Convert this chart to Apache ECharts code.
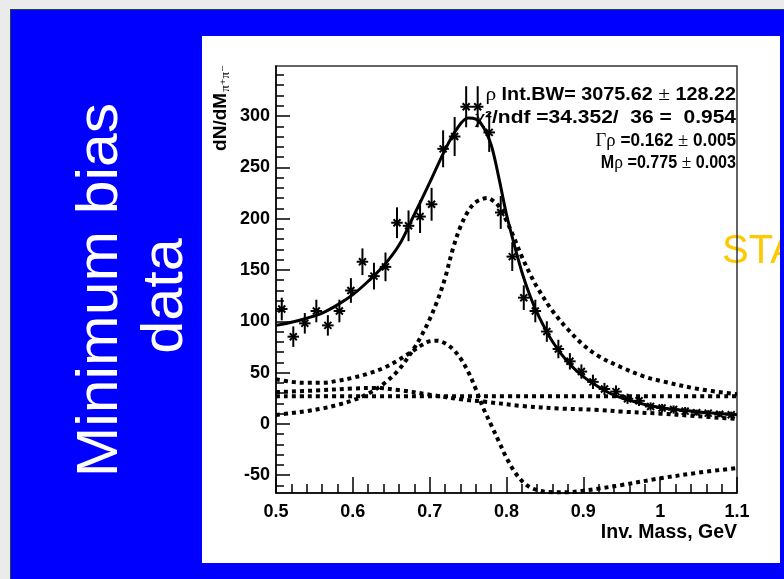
<!DOCTYPE html>
<html><head><meta charset="utf-8">
<script src="https://cdn.jsdelivr.net/npm/echarts@6/dist/echarts.min.js"></script>
<style>html,body{margin:0;padding:0;background:#ebebeb;overflow:hidden}#c{width:784px;height:579px}</style>
</head><body><div id="c"></div>
<script>
// ---- data ----
const binCenters = [0.5075,0.5225,0.5375,0.5525,0.5675,0.5825,0.5975,0.6125,0.6275,0.6425,
  0.6575,0.6725,0.6875,0.7025,0.7175,0.7325,0.7475,0.7625,0.7775,0.7925,
  0.8075,0.8225,0.8375,0.8525,0.8675,0.8825,0.8975,0.9125,0.9275,0.9425,
  0.9575,0.9725,0.9875,1.0025,1.0175,1.0325,1.0475,1.0625,1.0775,1.0925];
const counts = [112,85,98,110,96,110,130,158,144,153,
  196,193,202,214,268,280,309,309,284,206,
  163,123,110,90,73,61,51,41,34,31.5,
  24.5,22.5,17,15.5,14,12.5,11,10.5,9.5,9];
const errors = [11,10,10,11,10,11,12,13,13,14,
  15,15,16,16,18,19,20,20,19,16,
  14,12,11,10,9,8,7,7,6,6,
  5,5,4,4,4,4,3,3,3,3];

const fitX = [0.50,0.52,0.54,0.56,0.58,0.60,0.62,0.64,0.66,0.68,0.70,0.72,0.735,0.75,0.76,0.77,0.78,0.79,0.80,0.81,0.82,0.83,0.84,0.86,0.88,0.90,0.92,0.94,0.96,0.98,1.00,1.02,1.04,1.06,1.08,1.10];
const fitY = [96,99,103,108,116,126,139,154,174,204,235,267,287,298,297,289,272,240,204,175,148,126,108,80,60,46,36,28,23,19,16,14,12.5,11,10,9];

const bwX = [0.50,0.52,0.54,0.56,0.58,0.60,0.62,0.64,0.66,0.68,0.69,0.70,0.71,0.72,0.73,0.74,0.75,0.76,0.775,0.785,0.79,0.80,0.81,0.82,0.83,0.84,0.86,0.88,0.90,0.92,0.95,0.98,1.00,1.05,1.10];
const bwY = [8.8,10.5,12.5,15,18.5,23,29.5,39,53,74,87,102,120,142,170,192,207,216,220,216,212,198,181,163,147,133,110,92,77,66,55,46,42,34,29];

const intX = [0.50,0.52,0.54,0.56,0.58,0.60,0.62,0.64,0.66,0.68,0.69,0.70,0.71,0.72,0.73,0.74,0.75,0.76,0.77,0.78,0.79,0.80,0.81,0.82,0.83,0.84,0.85,0.86,0.88,0.90,0.92,0.95,1.00,1.05,1.10];
const intY = [43.5,41,40,40,42,45,49,54.5,62.5,72,77,80.5,81,78.5,73,64,51,34,15,-1,-17,-33,-46,-55.5,-61.5,-64.5,-66,-66.5,-66.5,-65,-63,-59.5,-53,-47.5,-43];

const flatX = [0.50,0.60,0.70,0.80,0.90,1.00,1.10];
const flatY = [27,27,27,27,27,27,27];

const bkgX = [0.50,0.55,0.60,0.63,0.66,0.70,0.74,0.77,0.82,0.87,0.92,0.95,1.00,1.04,1.10];
const bkgY = [31,32.5,34.5,35,33,28.5,24,21.8,17.5,15,13.6,12,10,8,4.8];

const xTicks = [0.5,0.6,0.7,0.8,0.9,1.0,1.1];
const xMinorTicks = [0.52,0.54,0.56,0.58,0.62,0.64,0.66,0.68,0.72,0.74,0.76,0.78,0.82,0.84,0.86,0.88,0.92,0.94,0.96,0.98,1.02,1.04,1.06,1.08];
const yTicks = [-50,0,50,100,150,200,250,300];
const yMinorTicks = [-60,-40,-30,-20,-10,10,20,30,40,60,70,80,90,110,120,130,140,160,170,180,190,210,220,230,240,260,270,280,290,310,320,330,340];

const statLines = [
  '{g|ρ}{b| Int.BW= 3075.62 }{g|±}{b| 128.22}',
  '{g|χ}{b|²/ndf =34.352/  36 =  0.954}',
  '{g|Γρ}{b| =0.162 }{g|±}{b| 0.005}',
  '{b|M}{g|ρ}{b| =0.775 }{g|±}{b| 0.003}'
];
const yTitle = '{a|dN/dM}{s|π⁺π⁻}';
const xTitle = 'Inv. Mass, GeV';
const sideLine1 = 'Minimum bias';
const sideLine2 = 'data';
const starText = 'STAR';

// ---- layout ----
const GL = 276, GT = 66, GW = 461, GH = 427;
const YMIN = -67.3, YMAX = 348.7;
const HALF_BIN = 0.0075;
const SANS = '"Liberation Sans", Arial, Helvetica, sans-serif';
const SERIF = '"Liberation Serif", "DejaVu Serif", serif';
const statY = [95, 118, 141, 163];
const statScale = [1.13, 1.2, 0.98, 0.92];

const pts = binCenters.map((x, i) => [x, counts[i], errors[i]]);
const zip = (a, b) => a.map((x, i) => [x, b[i]]);

const dotted = {color: '#000', width: 4, type: [4, 4], cap: 'butt'};
function lineSeries(name, xs, ys, style, z) {
  return {name, type: 'line', data: zip(xs, ys), showSymbol: false, symbol: 'none',
    smooth: 0.35, lineStyle: style, z, clip: true, silent: true};
}

const chart = echarts.init(document.getElementById('c'), null, {renderer: 'canvas'});
const tickFont = {color: '#000', fontFamily: SANS, fontWeight: 'bold', fontSize: 18};

const statEls = statLines.map((t, i) => ({
  type: 'text', x: 736, y: statY[i], z: 100, scaleX: statScale[i], scaleY: 1,
  style: {text: t, align: 'right', verticalAlign: 'middle',
    rich: {
      b: {fontFamily: SANS, fontWeight: 'bold', fontSize: 17.5, fill: '#000', color: '#000'},
      g: {fontFamily: SERIF, fontWeight: 'normal', fontSize: 19, fill: '#000', color: '#000'}
    }}
}));

chart.setOption({
  animation: false,
  backgroundColor: 'transparent',
  grid: {left: GL, top: GT, width: GW, height: GH, show: true, borderColor: '#333', borderWidth: 1.5,
    backgroundColor: 'transparent', containLabel: false, outerBoundsMode: 'none'},
  xAxis: [
    {type: 'value', min: 0.5, max: 1.1, position: 'bottom',
      axisLine: {show: true, onZero: false, lineStyle: {color: '#000', width: 1.5}},
      axisTick: {show: true, inside: true, length: 16, customValues: xTicks, lineStyle: {color: '#000', width: 1.5}},
      axisLabel: Object.assign({show: true, customValues: xTicks, margin: 10,
        formatter: v => String(+(+v).toFixed(2))}, tickFont),
      splitLine: {show: false}},
    {type: 'value', min: 0.5, max: 1.1, position: 'bottom',
      axisLine: {show: false, onZero: false},
      axisTick: {show: true, inside: true, length: 9, customValues: xMinorTicks, lineStyle: {color: '#000', width: 1.5}},
      axisLabel: {show: false}, splitLine: {show: false}}
  ],
  yAxis: [
    {type: 'value', min: YMIN, max: YMAX, position: 'left',
      axisLine: {show: true, onZero: false, lineStyle: {color: '#000', width: 1.5}},
      axisTick: {show: true, inside: true, length: 14, customValues: yTicks, lineStyle: {color: '#000', width: 1.5}},
      axisLabel: Object.assign({show: true, customValues: yTicks, margin: 6}, tickFont),
      splitLine: {show: false}},
    {type: 'value', min: YMIN, max: YMAX, position: 'left',
      axisLine: {show: false, onZero: false},
      axisTick: {show: true, inside: true, length: 8, customValues: yMinorTicks, lineStyle: {color: '#000', width: 1.5}},
      axisLabel: {show: false}, splitLine: {show: false}}
  ],
  series: [
    lineSeries('flat', flatX, flatY, dotted, 3),
    lineSeries('bkg', bkgX, bkgY, dotted, 3),
    lineSeries('interference', intX, intY, dotted, 3),
    lineSeries('bw', bwX, bwY, dotted, 3),
    lineSeries('fit', fitX, fitY, {color: '#000', width: 3}, 4),
    {name: 'data', type: 'custom', data: pts, z: 5, clip: true, silent: true,
      encode: {x: 0, y: 1},
      renderItem: function (params, api) {
        const x = api.value(0), y = api.value(1), e = api.value(2);
        const c = api.coord([x, y]);
        const t = api.coord([x, y + e]), b = api.coord([x, y - e]);
        const l = api.coord([x - HALF_BIN, y]), r = api.coord([x + HALF_BIN, y]);
        const s = 3.5;
        const st = {stroke: '#000', lineWidth: 2};
        return {type: 'group', children: [
          {type: 'line', shape: {x1: c[0], y1: t[1], x2: c[0], y2: b[1]}, style: st},
          {type: 'line', shape: {x1: l[0], y1: c[1], x2: r[0], y2: c[1]}, style: st},
          {type: 'line', shape: {x1: c[0] - s, y1: c[1] - s, x2: c[0] + s, y2: c[1] + s}, style: st},
          {type: 'line', shape: {x1: c[0] - s, y1: c[1] + s, x2: c[0] + s, y2: c[1] - s}, style: st}
        ]};
      }}
  ],
  graphic: {elements: [
    {type: 'rect', z: -100, shape: {x: 0, y: 0, width: 784, height: 579}, style: {fill: '#ebebeb'}},
    {type: 'rect', z: -99, shape: {x: 10, y: 9, width: 774, height: 570}, style: {fill: '#1e4050'}},
    {type: 'rect', z: -98, shape: {x: 11, y: 10, width: 773, height: 569}, style: {fill: '#0000ff'}},
    {type: 'rect', z: -97, shape: {x: 202, y: 36, width: 578, height: 527}, style: {fill: '#ffffff'}},
    {type: 'text', z: -96, x: 722, y: 252, style: {text: starText, fill: '#ffc800', fontFamily: SANS, fontSize: 40, align: 'left', verticalAlign: 'middle'}},
    {type: 'rect', z: -95, shape: {x: 780, y: 36, width: 4, height: 527}, style: {fill: '#0000ff'}},
    {type: 'text', z: 100, x: 101, y: 290, rotation: Math.PI / 2, scaleX: 1.065, scaleY: 1,
      style: {text: sideLine1, fill: '#ffffff', fontFamily: SANS, fontSize: 57, align: 'center', verticalAlign: 'middle'}},
    {type: 'text', z: 100, x: 166, y: 296, rotation: Math.PI / 2, scaleX: 1.04, scaleY: 1,
      style: {text: sideLine2, fill: '#ffffff', fontFamily: SANS, fontSize: 57, align: 'center', verticalAlign: 'middle'}},
    {type: 'text', z: 100, x: 221, y: 65, rotation: Math.PI / 2,
      style: {text: yTitle, align: 'right', verticalAlign: 'middle',
        rich: {a: {fontFamily: SANS, fontWeight: 'bold', fontSize: 19, fill: '#000'},
               s: {fontFamily: SERIF, fontSize: 13, fill: '#000', verticalAlign: 'bottom', padding: [9, 0, 0, 1]}}}},
    {type: 'text', z: 100, x: 737, y: 533,
      style: {text: xTitle, fill: '#000', fontFamily: SANS, fontWeight: 'bold', fontSize: 19.5, align: 'right', verticalAlign: 'middle'}}
  ].concat(statEls)}
});
</script></body></html>
